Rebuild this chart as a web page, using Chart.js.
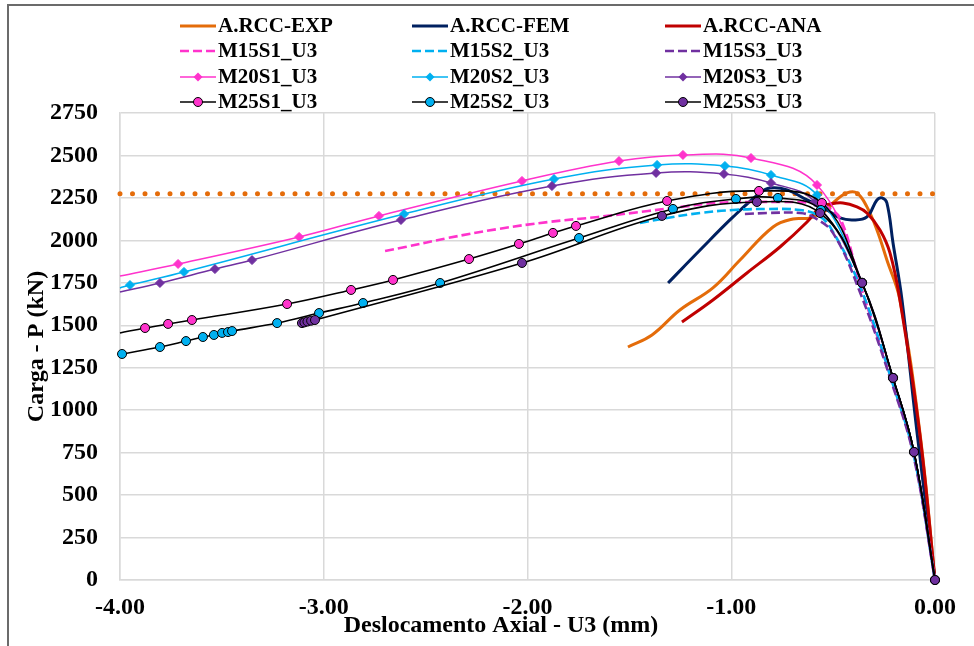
<!DOCTYPE html>
<html>
<head>
<meta charset="utf-8">
<script src="https://cdn.jsdelivr.net/npm/chart.js@4.4.0/dist/chart.umd.min.js"></script>
<style>
  html, body { margin: 0; padding: 0; background: #fff; }
  #wrap { position: relative; width: 974px; height: 646px; }
</style>
</head>
<body>
<div id="wrap"><canvas id="grafico" width="974" height="646"></canvas></div>
<script>
// curvas carga x deslocamento (U3 em mm, P em kN)
var expX = [-1.507, -1.389, -1.252, -1.090, -0.957, -0.795, -0.697, -0.613, -0.530, -0.501, -0.432, -0.383, -0.334, -0.285, -0.236, -0.172, -0.074, 0];
var expY = [1372, 1443, 1590, 1720, 1884, 2079, 2126, 2132, 2179, 2220, 2279, 2279, 2197, 2061, 1884, 1649, 866, 0];

var femX = [-1.310, -1.153, -0.991, -0.859, -0.810, -0.726, -0.628, -0.530, -0.466, -0.402, -0.334, -0.285, -0.260, -0.236, -0.206, -0.162, -0.088, 0];
var femY = [1749, 1943, 2138, 2279, 2308, 2297, 2238, 2179, 2132, 2120, 2138, 2238, 2250, 2220, 1985, 1649, 866, 0];

var anaX = [-1.242, -1.090, -0.923, -0.761, -0.628, -0.564, -0.515, -0.452, -0.383, -0.334, -0.270, -0.221, -0.172, -0.074, 0];
var anaY = [1519, 1649, 1808, 1961, 2108, 2197, 2214, 2220, 2197, 2161, 2061, 1926, 1649, 854, 0];

var m15s1X = [-2.699, -2.600, -2.390, -2.144, -1.899, -1.653, -1.408, -1.246, -1.080, -0.918, -0.756, -0.594, -0.530, -0.461, -0.365, -0.210, -0.105, 0];
var m15s1Y = [1937, 1961, 2014, 2067, 2108, 2138, 2173, 2197, 2220, 2226, 2226, 2220, 2197, 2120, 1730, 1170, 745, 0];
var m15s2X = [-1.448, -1.315, -1.153, -0.991, -0.825, -0.663, -0.579, -0.515, -0.365, -0.210, -0.105, 0];
var m15s2Y = [2102, 2132, 2161, 2179, 2185, 2179, 2150, 2079, 1720, 1165, 740, 0];
var m15s3X = [-0.933, -0.825, -0.663, -0.599, -0.501, -0.370, -0.212, -0.106, 0];
var m15s3Y = [2155, 2161, 2161, 2138, 2044, 1700, 1160, 735, 0];

var m20s1X = [-4.000, -3.715, -3.121, -2.729, -2.027, -1.551, -1.237, -0.903, -0.579, -0.358, -0.206, -0.103, 0];
var m20s1Y = [1790, 1861, 2020, 2144, 2350, 2467, 2503, 2485, 2326, 1750, 1190, 754, 0];
var m20s2X = [-4.000, -3.951, -3.686, -2.606, -1.870, -1.364, -1.031, -0.805, -0.579, -0.358, -0.206, -0.103, 0];
var m20s2Y = [1720, 1737, 1814, 2155, 2361, 2444, 2438, 2385, 2267, 1750, 1190, 754, 0];
var m20s3X = [-4.000, -3.804, -3.534, -3.352, -2.621, -1.880, -1.369, -1.036, -0.805, -0.589, -0.358, -0.206, -0.103, 0];
var m20s3Y = [1696, 1749, 1831, 1884, 2120, 2320, 2397, 2391, 2338, 2226, 1750, 1190, 754, 0];

var m25s1X = [-4.000, -3.877, -3.764, -3.647, -3.180, -2.866, -2.660, -2.287, -2.042, -1.875, -1.762, -1.315, -0.864, -0.555, -0.358, -0.206, -0.103, 0];
var m25s1Y = [1455, 1484, 1508, 1531, 1625, 1708, 1767, 1890, 1979, 2044, 2085, 2232, 2291, 2220, 1750, 1190, 754, 0];
var m25s2X = [-3.990, -3.804, -3.676, -3.593, -3.539, -3.499, -3.470, -3.450, -3.229, -3.023, -2.807, -2.429, -1.747, -1.286, -0.977, -0.771, -0.560, -0.358, -0.206, -0.103, 0];
var m25s2Y = [1331, 1372, 1407, 1431, 1443, 1455, 1460, 1466, 1513, 1572, 1631, 1749, 2014, 2185, 2244, 2250, 2179, 1750, 1190, 754, 0];
var m25s3X = [-3.107, -3.095, -3.080, -3.062, -3.043, -2.027, -1.340, -0.874, -0.564, -0.358, -0.206, -0.103, 0];
var m25s3Y = [1513, 1517, 1522, 1527, 1531, 1867, 2144, 2226, 2161, 1750, 1190, 754, 0];

// carga de pico experimental (linha pontilhada)
var picoX = [-4, 0];
var picoY = [2275, 2275];

var xTicks = [-4, -3, -2, -1, 0];
var yMax = 2750, yStep = 250;

var LARANJA = '#E46C0A', AZUL_ESC = '#002060', VERMELHO = '#C00000';
var ROSA = '#FF33CC', CIANO = '#00B0F0', ROXO = '#7030A0';
var FONTE = '"Liberation Serif", "Times New Roman", serif';

function pts(xs, ys) {
  return xs.map(function (x, i) { return { x: x, y: ys[i] }; });
}

// primeiro ponto sem marcador (curva que entra pela borda esquerda)
function semPrimeiro(r) {
  return function (ctx) { return ctx.dataIndex === 0 ? 0 : r; };
}

function linha(label, xs, ys, cor, extra) {
  var ds = {
    label: label,
    data: pts(xs, ys),
    showLine: true,
    borderColor: cor,
    backgroundColor: cor,
    borderWidth: 3,
    pointRadius: 0,
    tension: 0.4,
    fill: false,
    clip: false
  };
  for (var k in extra) ds[k] = extra[k];
  return ds;
}

function tracejada(label, xs, ys, cor) {
  return linha(label, xs, ys, cor, { borderDash: [9, 4], borderWidth: 2.6, leg: 'dash' });
}

function losango(label, xs, ys, cor) {
  return linha(label, xs, ys, cor, {
    borderWidth: 1.5, pointStyle: 'rectRot', pointRadius: semPrimeiro(4.5),
    pointBackgroundColor: cor, pointBorderColor: cor, pointBorderWidth: 1, leg: 'diamond'
  });
}

function circulo(label, xs, ys, cor, r0) {
  return linha(label, xs, ys, '#000000', {
    borderWidth: 1.6, pointStyle: 'circle', pointRadius: r0 ? semPrimeiro(4.5) : 4.5,
    pointBackgroundColor: cor, pointBorderColor: '#000000', pointBorderWidth: 1, leg: 'circle', fillCor: cor
  });
}

var series = [
  linha('A.RCC-EXP', expX, expY, LARANJA),
  linha('A.RCC-FEM', femX, femY, AZUL_ESC),
  linha('A.RCC-ANA', anaX, anaY, VERMELHO),
  tracejada('M15S1_U3', m15s1X, m15s1Y, ROSA),
  tracejada('M15S2_U3', m15s2X, m15s2Y, CIANO),
  tracejada('M15S3_U3', m15s3X, m15s3Y, ROXO),
  losango('M20S1_U3', m20s1X, m20s1Y, ROSA),
  losango('M20S2_U3', m20s2X, m20s2Y, CIANO),
  losango('M20S3_U3', m20s3X, m20s3Y, ROXO),
  circulo('M25S1_U3', m25s1X, m25s1Y, ROSA, true),
  circulo('M25S2_U3', m25s2X, m25s2Y, CIANO, false),
  circulo('M25S3_U3', m25s3X, m25s3Y, ROXO, false)
];
// séries posteriores ficam por cima
series.forEach(function (ds, i) { ds.order = series.length - i; });

var pico = linha('Pico', picoX, picoY, LARANJA, {
  borderWidth: 5, borderDash: [0, 12.5], borderCapStyle: 'round', tension: 0, order: 20
});

var datasets = series.concat([pico]);

// moldura cinza, legenda em 3 colunas e título do eixo x
var extras = {
  id: 'extras',
  beforeDraw: function (chart) {
    var ctx = chart.ctx;
    ctx.save();
    ctx.fillStyle = '#fff';
    ctx.fillRect(0, 0, chart.width, chart.height);
    ctx.strokeStyle = '#6b6b6b';
    ctx.lineWidth = 2;
    ctx.beginPath();
    ctx.moveTo(8, chart.height);
    ctx.lineTo(8, 5);
    ctx.lineTo(chart.width, 5);
    ctx.stroke();
    ctx.restore();
  },
  afterDraw: function (chart) {
    var ctx = chart.ctx;
    var colX = [180, 412, 665];
    var rowY = [26, 51, 77, 102];
    var comp = 36;
    ctx.save();
    ctx.font = 'bold 21px ' + FONTE;
    ctx.textBaseline = 'middle';
    ctx.textAlign = 'left';
    series.forEach(function (ds, i) {
      var x = colX[i % 3], y = rowY[Math.floor(i / 3)];
      ctx.strokeStyle = ds.borderColor;
      ctx.lineWidth = ds.borderWidth;
      ctx.setLineDash(ds.borderDash || []);
      ctx.beginPath();
      ctx.moveTo(x, y);
      ctx.lineTo(x + comp, y);
      ctx.stroke();
      ctx.setLineDash([]);
      var cx = x + comp / 2;
      if (ds.leg === 'diamond') {
        ctx.fillStyle = ds.borderColor;
        ctx.beginPath();
        ctx.moveTo(cx, y - 4.5); ctx.lineTo(cx + 4.5, y); ctx.lineTo(cx, y + 4.5); ctx.lineTo(cx - 4.5, y);
        ctx.closePath();
        ctx.fill();
      } else if (ds.leg === 'circle') {
        ctx.fillStyle = ds.fillCor;
        ctx.strokeStyle = '#000';
        ctx.lineWidth = 1;
        ctx.beginPath();
        ctx.arc(cx, y, 4.5, 0, Math.PI * 2);
        ctx.fill();
        ctx.stroke();
      }
      ctx.fillStyle = '#000';
      ctx.fillText(ds.label, x + comp + 2, y + 1);
    });

    ctx.font = 'bold 24px ' + FONTE;
    ctx.textAlign = 'center';
    ctx.fillText('Deslocamento Axial - U3 (mm)', 501, 626);
    ctx.restore();
  }
};

new Chart(document.getElementById('grafico'), {
  type: 'scatter',
  data: { datasets: datasets },
  options: {
    responsive: false,
    animation: false,
    events: [],
    devicePixelRatio: 1,
    layout: { padding: { top: 113, right: 39, left: 0, bottom: 0 } },
    plugins: { legend: { display: false }, tooltip: { enabled: false } },
    scales: {
      x: {
        type: 'linear',
        min: xTicks[0],
        max: xTicks[xTicks.length - 1],
        afterFit: function (s) { s.height = 66; },
        afterBuildTicks: function (s) { s.ticks = xTicks.map(function (v) { return { value: v }; }); },
        grid: { color: '#d9d9d9', lineWidth: 1.5, drawTicks: false },
        border: { color: '#d9d9d9', width: 1.5 },
        ticks: {
          padding: 13,
          color: '#000',
          font: { family: FONTE, size: 24, weight: 'bold' },
          callback: function (v) { return Number(v).toFixed(2); }
        }
      },
      y: {
        type: 'linear',
        min: 0,
        max: yMax,
        afterFit: function (s) { s.width = 120; },
        grid: { color: '#d9d9d9', lineWidth: 1.5, drawTicks: false },
        border: { color: '#d9d9d9', width: 1.5 },
        ticks: {
          stepSize: yStep,
          padding: 22,
          color: '#000',
          font: { family: FONTE, size: 24, weight: 'bold' },
          callback: function (v) { return String(v); }
        },
        title: {
          display: true,
          text: 'Carga - P (kN)',
          color: '#000',
          padding: { top: 22, bottom: 0 },
          font: { family: FONTE, size: 24, weight: 'bold' }
        }
      }
    }
  },
  plugins: [extras]
});
</script>
</body>
</html>
